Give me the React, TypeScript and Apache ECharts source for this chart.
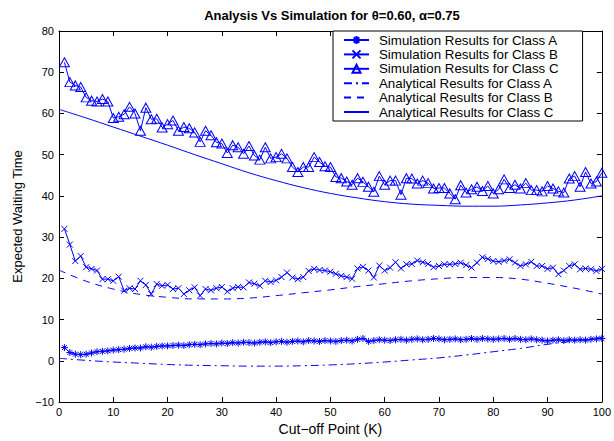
import React, { useEffect, useRef } from "react";
import * as echarts from "echarts";

const SIM_A = [3.2, 2.0, 1.6, 1.5, 1.6, 1.9, 2.2, 2.3, 2.4, 2.6, 2.7, 2.8, 3.0, 3.1, 3.1, 3.4, 3.3, 3.5, 3.6, 3.6,
  3.7, 3.8, 3.7, 3.9, 4.0, 3.9, 4.1, 4.2, 4.1, 4.3, 4.2, 4.4, 4.3, 4.5, 4.4, 4.3, 4.5, 4.6, 4.4, 4.6,
  4.7, 4.5, 4.7, 4.8, 4.6, 4.9, 4.8, 4.7, 4.9, 4.8, 4.7, 4.9, 5.0, 4.8, 5.2, 5.4, 4.7, 4.9, 5.1, 5.0,
  4.9, 5.1, 5.2, 5.0, 5.2, 5.3, 5.1, 5.2, 5.4, 5.3, 5.1, 5.2, 5.3, 5.1, 5.2, 5.4, 5.2, 5.4, 5.3, 5.2,
  5.3, 5.4, 5.2, 5.4, 5.2, 5.1, 5.3, 5.1, 5.0, 4.8, 5.0, 5.1, 4.9, 5.1, 5.0, 5.1, 5.0, 5.2, 5.3, 5.4];

const SIM_B = [32, 28.2, 24.2, 25.4, 22.7, 22.3, 21.9, 19.8, 19.8, 19.4, 20.4, 17, 17.6, 17.4, 19.4, 18.4, 16.2, 18.6, 18.2, 18.4,
  17.4, 17.6, 16.2, 17.1, 17.8, 15.8, 17.4, 17.1, 17.6, 17.9, 16.8, 17.6, 17.9, 17.8, 19, 18.7, 18.2, 19.4, 19.1, 19.5,
  20.3, 21.4, 20.2, 19.8, 20.3, 21.8, 22.3, 22, 21.9, 21.6, 21.1, 20.6, 20.3, 19.9, 22.4, 22.8, 21.9, 20.2, 23.1, 21.9,
  22.6, 23.9, 22.4, 23.4, 23.5, 24.3, 23.9, 23.5, 22.7, 23, 23.4, 23.4, 23.5, 23.8, 23.2, 22.6, 23.8, 25.1, 24.7, 24.2,
  24, 24.3, 24.6, 23.8, 23, 23.4, 24, 23, 23, 22.3, 22.6, 21, 21.9, 23, 23.4, 22.2, 22.4, 22.2, 21.8, 22.3];

const SIM_C = [72.4, 67.6, 66.8, 66.4, 63.9, 63.1, 62.9, 63.5, 62.9, 58.9, 59.2, 59.8, 61.6, 60, 55.8, 61.4, 58.6, 58.7, 56.6, 57.4,
  58.3, 55.8, 56.7, 56.4, 55.4, 53.1, 55.8, 54.7, 53, 52.7, 50.4, 52.3, 51.8, 50.2, 52.1, 49.8, 48.8, 51.8, 49.1, 49.4,
  50.2, 49.1, 47, 45.8, 47, 47, 49.4, 48.2, 47.2, 47, 44.6, 44.3, 43.5, 42.7, 44.3, 43.4, 42.2, 41, 44.8, 42.7,
  43.7, 43.7, 40.3, 44.3, 44.2, 43, 43.7, 43.1, 41.8, 41.9, 41.9, 40.6, 39.2, 42.6, 40.8, 41.6, 42.2, 41.2, 42.4, 40.6,
  41.6, 44, 41.9, 42.7, 41.8, 43.1, 41.4, 41.4, 41.1, 42.4, 41.8, 41.1, 40.8, 44.2, 44.8, 42.2, 45.8, 43, 43.5, 45.6];

const ANA_K = [0, 5, 10, 15, 20, 25, 30, 35, 40, 45, 50, 55, 60, 65, 70, 75, 80, 85, 90, 95, 100];
const ANA_A = [0.6, 0.1, -0.3, -0.6, -0.9, -1.1, -1.2, -1.3, -1.3, -1.2, -1.0, -0.7, -0.3, 0.2, 0.7, 1.4, 2.2, 3.0, 4.0, 4.8, 5.7];
const ANA_B = [22, 19.3, 17.4, 16.1, 15.4, 15.0, 15.0, 15.2, 15.8, 16.5, 17.2, 18.0, 18.7, 19.4, 19.9, 20.2, 20.2, 19.8, 18.8, 17.6, 16.2];
const ANA_C = [61, 58.9, 56.7, 54.5, 52.3, 50.0, 47.8, 45.6, 43.7, 42.0, 40.6, 39.5, 38.6, 38.0, 37.7, 37.5, 37.5, 37.8, 38.3, 39.0, 40.0];

const NAMES = [
  "Simulation Results for Class A",
  "Simulation Results for Class B",
  "Simulation Results for Class C",
  "Analytical Results for Class A",
  "Analytical Results for Class B",
  "Analytical Results for Class C",
];

const BLUE = "#0000ff";
const FONT = "'Liberation Sans', Arial, Helvetica, sans-serif";

const simPairs = (vals: number[]) => vals.map((v, i) => [i + 1, v]);
const anaPairs = (vals: number[]) => vals.map((v, i) => [ANA_K[i], v]);

const ASTERISK = "path://M5,0L5,10M0,5L10,5M1.5,1.5L8.5,8.5M8.5,1.5L1.5,8.5";
const CROSS = "path://M0,0L10,10M10,0L0,10";
const TRI = "path://M5,0L10,9L0,9Z";

export default function App() {
  const ref = useRef<HTMLDivElement>(null);
  useEffect(() => {
    if (!ref.current) return;
    const chart = echarts.init(ref.current, undefined, { renderer: "svg" });
    const axisCommon = {
      axisLine: { show: true, onZero: false, lineStyle: { color: "#000", width: 1 } },
      axisTick: { show: true, inside: true, length: 5, lineStyle: { color: "#000" } },
      splitLine: { show: false },
    };
    const simSeries = (name: string, vals: number[], symbol: string, size: number | number[]) => ({
      name,
      type: "line",
      data: simPairs(vals),
      symbol,
      symbolSize: size,
      showAllSymbol: true,
      lineStyle: { color: BLUE, width: 1 },
      itemStyle: { color: "transparent", borderColor: BLUE, borderWidth: 1 },
      z: 3,
    });
    const anaSeries = (name: string, vals: number[], type: any) => ({
      name,
      type: "line",
      data: anaPairs(vals),
      symbol: "none",
      smooth: 0.4,
      lineStyle: { color: BLUE, width: 1, type },
      itemStyle: { color: "transparent", borderColor: "transparent", borderWidth: 0 },
      z: 2,
    });
    chart.setOption({
      animation: false,
      backgroundColor: "#fff",
      textStyle: { fontFamily: FONT },
      grid: { left: 59, right: 9, top: 31, bottom: 35, containLabel: false },
      graphic: [
        {
          type: "text",
          x: 332,
          y: 15,
          style: {
            text: "Analysis Vs Simulation for θ=0.60, α=0.75",
            textAlign: "center",
            textVerticalAlign: "middle",
            font: `bold 13px ${FONT}`,
            fill: "#000",
          },
        },
      ],
      legend: {
        orient: "vertical",
        left: 333,
        top: 31,
        backgroundColor: "#fff",
        borderColor: "#000",
        borderWidth: 1,
        borderRadius: 0,
        padding: [2, 24, 2, 10],
        itemWidth: 25,
        itemHeight: 10,
        itemGap: 0.4,
        textStyle: { fontSize: 13.3, color: "#000", fontFamily: FONT, lineHeight: 14, padding: [0, 0, 0, 5] },
        data: NAMES,
        z: 10,
      },
      xAxis: [
        {
          type: "value",
          min: 0,
          max: 100,
          interval: 10,
          position: "bottom",
          ...axisCommon,
          axisLabel: { color: "#000", fontSize: 11, fontFamily: FONT, margin: 4 },
          name: "Cut\u2212off Point (K)",
          nameLocation: "middle",
          nameGap: 20,
          nameTextStyle: { fontSize: 14, color: "#000", fontFamily: FONT },
        },
        {
          type: "value",
          min: 0,
          max: 100,
          interval: 10,
          position: "top",
          ...axisCommon,
          axisLabel: { show: false },
        },
      ],
      yAxis: [
        {
          type: "value",
          min: -10,
          max: 80,
          interval: 10,
          position: "left",
          ...axisCommon,
          axisLabel: {
            color: "#000",
            fontSize: 11,
            fontFamily: FONT,
            margin: 5,
            formatter: (v: number) => String(v).replace("-", "\u2212"),
          },
          name: "Expected Waiting Time",
          nameLocation: "middle",
          nameGap: 34,
          nameTextStyle: { fontSize: 13, color: "#000", fontFamily: FONT },
        },
        {
          type: "value",
          min: -10,
          max: 80,
          interval: 10,
          position: "right",
          ...axisCommon,
          axisLabel: { show: false },
        },
      ],
      series: [
        simSeries(NAMES[0], SIM_A, ASTERISK, 7),
        simSeries(NAMES[1], SIM_B, CROSS, 6),
        simSeries(NAMES[2], SIM_C, TRI, [10, 9]),
        anaSeries(NAMES[3], ANA_A, [8, 4, 2, 4]),
        anaSeries(NAMES[4], ANA_B, [7, 6]),
        anaSeries(NAMES[5], ANA_C, "solid"),
      ],
    });
    return () => chart.dispose();
  }, []);
  return <div ref={ref} style={{ position: "fixed", left: 0, top: 0, width: 614, height: 441 }} />;
}
